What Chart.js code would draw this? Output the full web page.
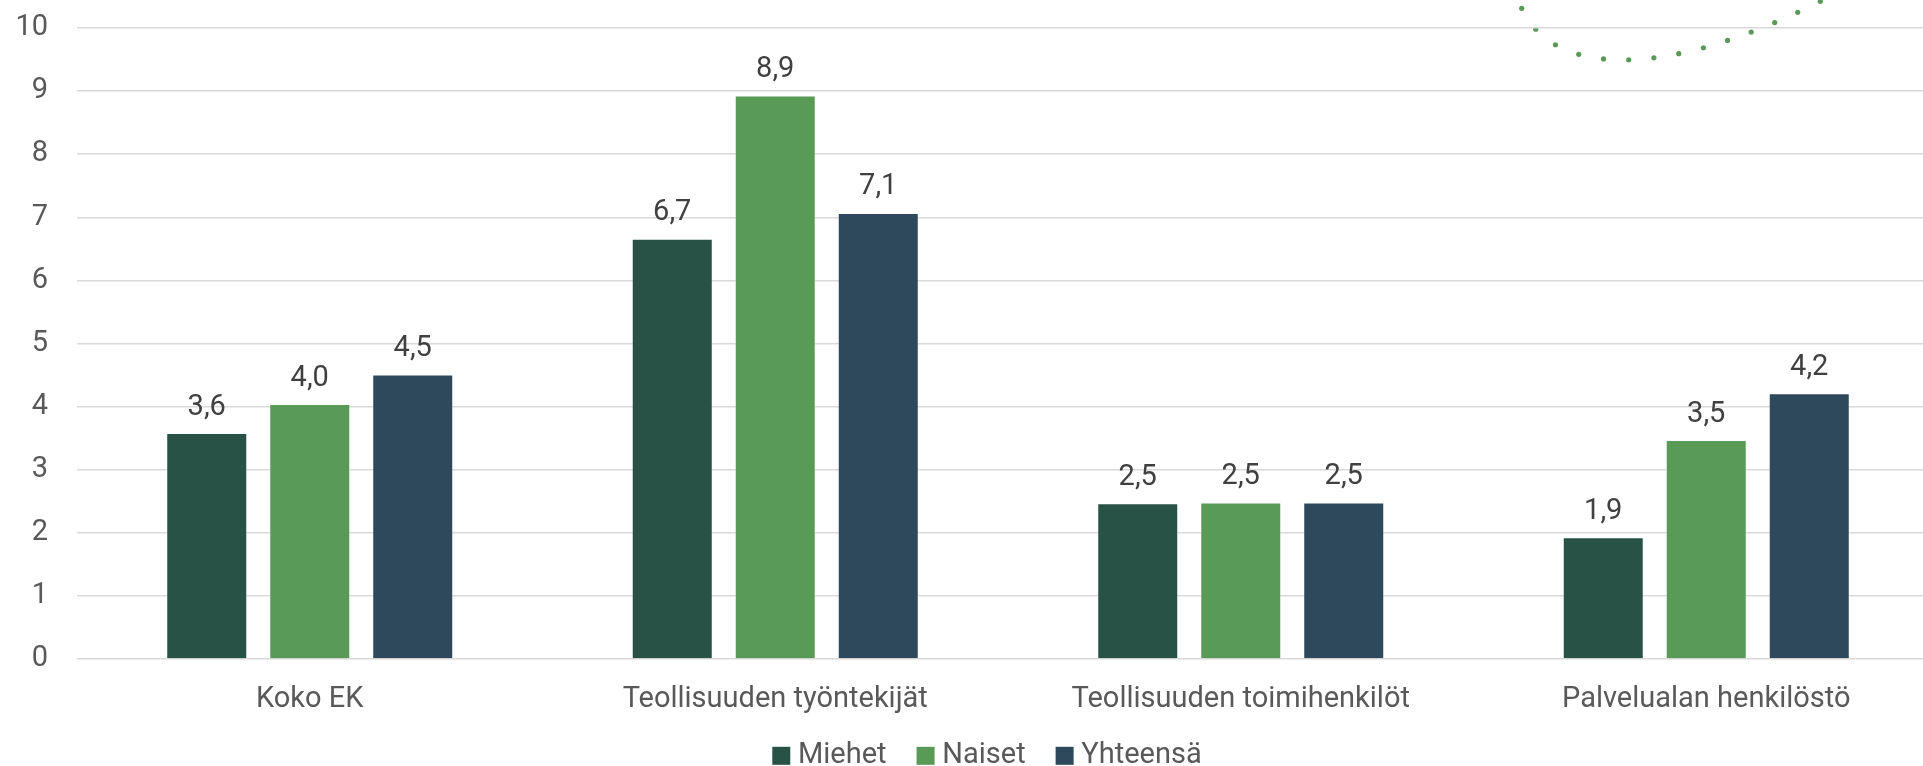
<!DOCTYPE html>
<html><head><meta charset="utf-8">
<script src="https://cdn.jsdelivr.net/npm/chart.js@4.4.1/dist/chart.umd.min.js"></script>
<style>
html,body{margin:0;padding:0;overflow:hidden;background:#fff;width:1923px;height:766px}
#wrap{width:1974px;height:766px}
canvas{display:block}
</style></head>
<body><div id="wrap"><canvas id="c" width="1974" height="766"></canvas></div>
<script>
// ---- data ----
const categories = ['Koko EK', 'Teollisuuden työntekijät', 'Teollisuuden toimihenkilöt', 'Palvelualan henkilöstö'];
const seriesNames = ['Miehet', 'Naiset', 'Yhteensä'];
const miehet   = [3.58, 6.66, 2.47, 1.93];
const naiset   = [4.04, 8.93, 2.48, 3.47];
const yhteensa = [4.51, 7.07, 2.48, 4.21];
const yTicks = [0, 1, 2, 3, 4, 5, 6, 7, 8, 9, 10];
const seriesColors = ['#275245', '#599A56', '#2D495B'];

const FONT = 'Roboto';
const FS = 29;

const valueLabels = {
  id: 'valueLabels',
  afterDatasetsDraw(chart) {
    const ctx = chart.ctx;
    ctx.save();
    ctx.font = FS + 'px ' + FONT;
    ctx.fillStyle = '#404040';
    ctx.textAlign = 'center';
    ctx.textBaseline = 'alphabetic';
    chart.data.datasets.forEach((ds, i) => {
      chart.getDatasetMeta(i).data.forEach((bar, j) => {
        ctx.fillText(ds.data[j].toFixed(1).replace('.', ','), bar.x, bar.y - 18.5);
      });
    });
    ctx.restore();
  }
};

// legend drawn below the axis labels (square, small gap to the text)
const bottomLegend = {
  id: 'bottomLegend',
  afterDraw(chart) {
    const ctx = chart.ctx;
    ctx.save();
    ctx.font = FS + 'px ' + FONT;
    const box = 18, gapText = 7.7, gapItem = 30;
    const items = chart.data.datasets.map(ds => ({ text: ds.label, color: ds.backgroundColor,
                                                    w: ctx.measureText(ds.label).width }));
    const total = items.reduce((s, it) => s + box + gapText + it.w, 0) + gapItem * (items.length - 1);
    let x = chart.width / 2 - total / 2;
    const baseline = 763.3;
    items.forEach(it => {
      ctx.fillStyle = it.color;
      ctx.fillRect(x, baseline - 16.5, box, box);
      ctx.fillStyle = '#595959';
      ctx.textAlign = 'left';
      ctx.textBaseline = 'alphabetic';
      ctx.fillText(it.text, x + box + gapText, baseline);
      x += box + gapText + it.w + gapItem;
    });
    ctx.restore();
  }
};

// decorative dotted curve (top right)
const decoCurve = {
  id: 'decoCurve',
  beforeDraw(chart) {
    const ctx = chart.ctx;
    const P = [[1521.7, 8.3], [1553.2, 76.5], [1664.5, 80], [1820.3, 1.3]];
    const bz = t => {
      const u = 1 - t;
      return [u*u*u*P[0][0] + 3*u*u*t*P[1][0] + 3*u*t*t*P[2][0] + t*t*t*P[3][0],
              u*u*u*P[0][1] + 3*u*u*t*P[1][1] + 3*u*t*t*P[2][1] + t*t*t*P[3][1]];
    };
    const steps = 2000, pts = [bz(0)], len = [0];
    for (let i = 1; i <= steps; i++) {
      const p = bz(i / steps), q = pts[i - 1];
      pts.push(p); len.push(len[i - 1] + Math.hypot(p[0] - q[0], p[1] - q[1]));
    }
    const total = len[steps], n = 14;
    ctx.save();
    ctx.fillStyle = '#599A56';
    let k = 0;
    for (let d = 0; d < n; d++) {
      const target = total * d / (n - 1);
      while (k < steps && len[k] < target) k++;
      ctx.beginPath();
      ctx.arc(pts[k][0], pts[k][1], 2.6, 0, Math.PI * 2);
      ctx.fill();
    }
    ctx.restore();
  }
};

new Chart(document.getElementById('c'), {
  type: 'bar',
  data: {
    labels: categories,
    datasets: [
      { label: seriesNames[0], data: miehet,   backgroundColor: seriesColors[0] },
      { label: seriesNames[1], data: naiset,   backgroundColor: seriesColors[1] },
      { label: seriesNames[2], data: yhteensa, backgroundColor: seriesColors[2] }
    ].map(d => Object.assign(d, { borderColor: 'rgba(255,255,255,0.3)', borderWidth: 1,
                                  categoryPercentage: 0.6638, barPercentage: 0.7864 }))
  },
  options: {
    responsive: false,
    animation: false,
    devicePixelRatio: 1,
    layout: { padding: { top: 28, left: 0, right: 35, bottom: 48 } },
    plugins: {
      legend: { display: false },
      tooltip: { enabled: false }
    },
    scales: {
      x: {
        grid: { display: false, drawTicks: false },
        border: { display: false },
        afterFit: s => { s.height = 59; },
        ticks: { color: '#595959', font: { family: FONT, size: FS, lineHeight: 1 }, padding: 26.5, maxRotation: 0 }
      },
      y: {
        min: yTicks[0], max: yTicks[yTicks.length - 1],
        afterBuildTicks: s => { s.ticks = yTicks.map(v => ({ value: v })); },
        afterFit: s => { s.width = 77; s.paddingTop = 0; s.paddingBottom = 0; },
        grid: { color: '#d9d9d9', lineWidth: 1.5, drawTicks: false },
        border: { display: false },
        ticks: { color: '#595959', font: { family: FONT, size: FS }, padding: 29 }
      }
    }
  },
  plugins: [valueLabels, bottomLegend, decoCurve]
});
</script>
</body></html>
